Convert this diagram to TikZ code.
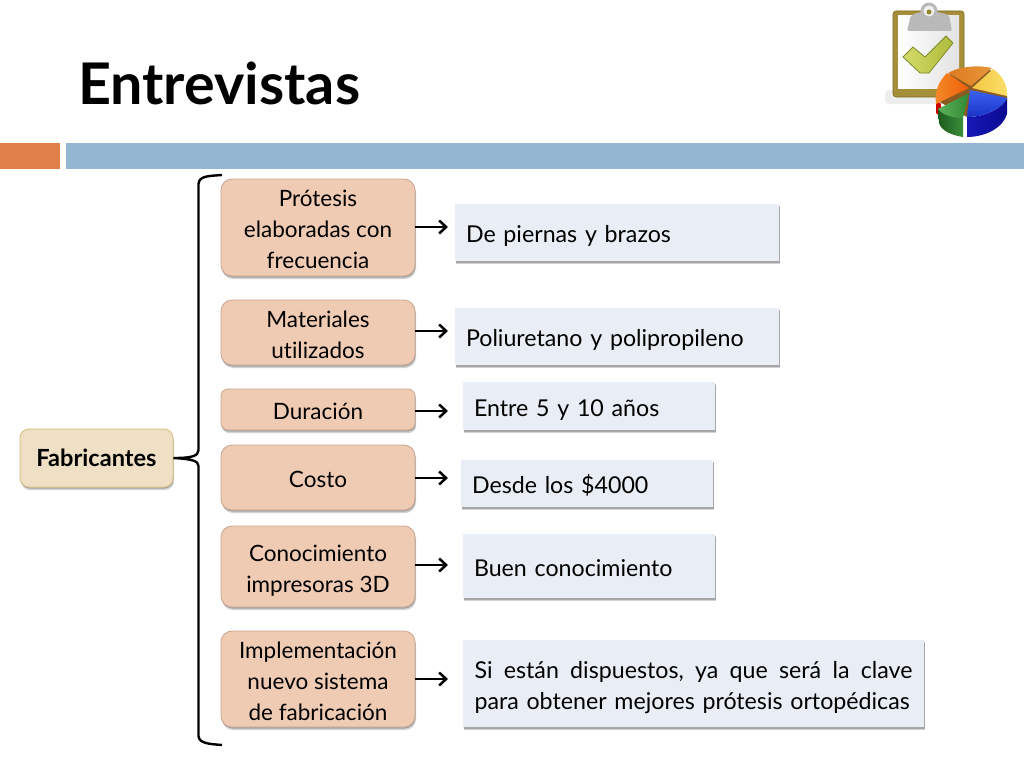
\documentclass[tikz,border=0pt]{standalone}
\usepackage{fontspec}
\setmainfont[Ligatures=NoCommon,Contextuals=NoAlternate]{Lato}
\usetikzlibrary{shadows,arrows.meta}
\definecolor{orangebar}{HTML}{DF8048}
\definecolor{bluebar}{HTML}{94B6D2}
\definecolor{peach}{HTML}{F0CBB4}
\definecolor{peachedge}{HTML}{C9A48E}
\definecolor{cream}{HTML}{EEDFC5}
\definecolor{creamedge}{HTML}{DCC48C}
\definecolor{pale}{HTML}{E9EEF6}
\definecolor{clipgold}{HTML}{A58F38}
\definecolor{clipdark}{HTML}{7D6A20}
\definecolor{tickA}{HTML}{D3DB6A}
\definecolor{tickB}{HTML}{AEBB3A}
\definecolor{tickE}{HTML}{7F8A2A}
\definecolor{pieYa}{HTML}{F2C642}
\definecolor{pieYb}{HTML}{FBE06A}
\definecolor{pieBr}{HTML}{DD7A20}
\definecolor{pieBs}{HTML}{E8963A}
\definecolor{pieOa}{HTML}{F58A2A}
\definecolor{pieOb}{HTML}{EE5E08}
\definecolor{pieUa}{HTML}{3A62F0}
\definecolor{pieUb}{HTML}{1A33C8}
\definecolor{pieUc}{HTML}{0A0A90}
\definecolor{pieUd}{HTML}{1818B8}
\definecolor{pieGa}{HTML}{5FB05A}
\definecolor{pieGb}{HTML}{2F8A34}
\definecolor{pieGc}{HTML}{1C5C1E}
\definecolor{pieGd}{HTML}{3A8E3A}
\definecolor{pieBack}{HTML}{8A5A20}
\newcommand\Tx[1]{\vbox{\kern-6pt\hbox{\begin{tabular}{@{}c@{}}#1\end{tabular}}\kern-14pt}}
\newcommand\Ax[1]{\vbox{\kern8pt\hbox{\begin{tabular}{@{}l@{}}#1\end{tabular}}}}
\tikzset{
 x=1pt,y=-1pt,
 softshadow/.style={drop shadow={shadow xshift=.5pt,shadow yshift=-1.5pt,opacity=.28,fill=black!80},
   drop shadow={shadow xshift=1pt,shadow yshift=-3pt,opacity=.22,fill=black!80}},
 topicbox/.style={draw=peachedge,line width=.8pt,fill=peach,rounded corners=11pt,minimum width=194pt,
   font=\fontsize{22.5}{31}\selectfont,text=black,inner sep=0pt,softshadow},
 rootbox/.style={draw=creamedge,line width=1pt,fill=cream,rounded corners=9pt,minimum width=153pt,minimum height=58pt,
   font=\fontsize{23.6}{28}\selectfont\bfseries,text=black,inner sep=0pt,softshadow},
 answerbox/.style={fill=pale,font=\fontsize{23.2}{31}\selectfont,text=black,inner sep=0pt,align=left,softshadow},
 pointer/.style={draw=black,line width=2.5pt,-{Straight Barb[length=7pt,width=13pt,line width=2.5pt]}},
}
\begin{document}
\begin{tikzpicture}
\useasboundingbox (0,0) rectangle (1024,768);
\fill[orangebar] (0,143) rectangle (60,169);
\fill[bluebar] (66,143) rectangle (1024,169);
\node[anchor=base west,inner sep=0pt,font=\fontsize{57.4}{60}\selectfont\bfseries] (title) at (78,104) {Entrevistas};

% icon: clipboard
\fill[black,opacity=.07,rounded corners=4pt] (885,90) rectangle (945,104);
\fill[clipgold,rounded corners=3pt,draw=clipdark,line width=.6pt] (893,11) rectangle (964,97);
\shade[left color=white,right color=gray!22] (898,16) rectangle (959,88);
\fill[gray!55,rounded corners=2pt] (907,31) -- (911,15) -- (920,12) -- (938,12) -- (949,15) -- (952,31) -- cycle;
\fill[gray!55] (929,11) circle (8.5pt);
\fill[gray!12] (929,11) circle (5.5pt);
\fill[olive!70!gray] (929,12) circle (2.5pt);
\shade[left color=tickA,right color=tickB,draw=tickE,line width=.8pt,line join=round] (903,57) -- (913,47) -- (925,57) -- (946,36) -- (953,43) -- (929,73) -- (920,73) -- cycle;
% icon: pie
\fill[pieBack] (936,100) .. controls (936,80) and (955,67) .. (975,67) .. controls (995,67) and (1008,82) .. (1007,98) -- (967,117) -- cycle;
\fill[red!80!black] (936,100) -- (941,104) -- (941,118) -- (936,113) -- cycle;
\shade[left color=pieGc,right color=pieGd] (938,109) -- (963,118) -- (963,137) .. controls (950,135) and (941,130) .. (939,123) -- cycle;
\shade[left color=pieGa,right color=pieGb] (938,109) -- (969,93) -- (963,118) .. controls (950,118) and (942,114) .. (938,109) -- cycle;
\shade[left color=pieUd,right color=pieUc] (967,117) .. controls (985,117) and (1003,108) .. (1007,98) -- (1007,114) .. controls (1003,128) and (985,137) .. (967,137) -- cycle;
\shade[top color=pieUa,bottom color=pieUb] (970,90) -- (1007,98) .. controls (1003,108) and (985,117) .. (967,117) -- cycle;
\shade[left color=pieOa,right color=pieOb] (969,88) -- (936,104) .. controls (934,90) and (940,80) .. (947,73) -- cycle;
\shade[left color=pieBr,right color=pieBs] (948,73) .. controls (960,66) and (980,65) .. (992,68) -- (971,86) -- cycle;
\shade[left color=pieYa,right color=pieYb] (993,69) .. controls (1003,76) and (1008,86) .. (1007,96) -- (972,88) -- cycle;

% root
\node[rootbox] (root) at (96.5,458) {Fabricantes};
% topics
\node[topicbox,minimum height=97pt] (t1) at (318,227.5) {\Tx{Prótesis\\elaboradas con\\frecuencia}};
\node[topicbox,minimum height=65pt] (t2) at (318,332.5) {\Tx{Materiales\\utilizados}};
\node[topicbox,minimum height=41pt,rounded corners=7pt] (t3) at (318,409.5) {\Tx{Duración}};
\node[topicbox,minimum height=65pt] (t4) at (318,477.5) {\Tx{Costo}};
\node[topicbox,minimum height=81pt] (t5) at (318,566.5) {\Tx{Conocimiento\\impresoras 3D}};
\node[topicbox,minimum height=96pt] (t6) at (318,679) {\Tx{Implementación\\nuevo sistema\\de fabricación}};
% answers
\node[answerbox,minimum width=324pt,minimum height=57pt,text width=302pt] (a1) at (617,232.5) {\Ax{De piernas y brazos}};
\node[answerbox,minimum width=324pt,minimum height=57pt,text width=302pt] (a2) at (617,336.5) {\Ax{Poliuretano y polipropileno}};
\node[answerbox,minimum width=252pt,minimum height=48pt,text width=230pt] (a3) at (589,406) {\Ax{Entre 5 y 10 años}};
\node[answerbox,minimum width=252pt,minimum height=47pt,text width=230pt] (a4) at (587,483.5) {\Ax{Desde los \$4000}};
\node[answerbox,minimum width=252pt,minimum height=64pt,text width=230pt] (a5) at (589,566) {\Ax{Buen conocimiento}};
\node[answerbox,minimum width=461pt,minimum height=87pt,text width=438pt] (a6) at (693.5,683.5) {\Ax{\hbox to 438pt{Si\hfill están\hfill dispuestos,\hfill ya\hfill que\hfill será\hfill la\hfill clave}\\para obtener mejores prótesis ortopédicas}};
% arrows
\foreach \i/\yy in {1/227,2/331,3/411,4/478,5/565,6/679}{
  \coordinate (s\i) at (t\i.east |- 0,\yy);
  \coordinate (e\i) at (448,\yy);
  \draw[pointer] (s\i) -- (e\i);
}
% brace
\coordinate (bt) at (222,175);
\coordinate (bb) at (222,745);
\draw[line width=2.4pt,black,line join=round] (bt) .. controls (208,176) and (199,176) .. (198.5,184) -- (198.5,450) .. controls (198.5,456) and (192,458) .. (root.east)
  (root.east) .. controls (192,459) and (198.5,461) .. (198.5,466) -- (198.5,736) .. controls (199,743) and (208,744) .. (bb);
\end{tikzpicture}
\end{document}
